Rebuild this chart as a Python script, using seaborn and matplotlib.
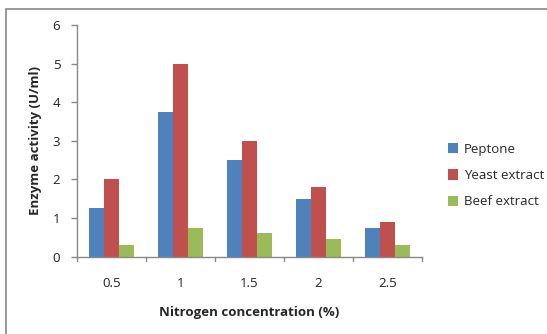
import matplotlib
matplotlib.use("Agg")
import matplotlib.pyplot as plt
import seaborn as sns
import pandas as pd
from matplotlib.patches import Rectangle

categories = ["0.5", "1", "1.5", "2", "2.5"]
peptone = [1.25, 3.75, 2.5, 1.5, 0.75]
yeast_extract = [2.0, 5.0, 3.0, 1.8, 0.9]
beef_extract = [0.3, 0.75, 0.6, 0.45, 0.3]
series_names = ["Peptone", "Yeast extract", "Beef extract"]
y_ticks = [0, 1, 2, 3, 4, 5, 6]

rows = []
for name, vals in zip(series_names, [peptone, yeast_extract, beef_extract]):
    for c, v in zip(categories, vals):
        rows.append({"conc": c, "activity": v, "source": name})
df = pd.DataFrame(rows)

sns.set_theme(style="white")
plt.rcParams['font.family'] = ['Open Sans', 'DejaVu Sans']

W, H = 547, 334
fig = plt.figure(figsize=(W / 100, H / 100), dpi=100)
ax = fig.add_axes([77 / W, 1 - 256.5 / H, (422 - 77) / W, (256.5 - 25) / H])

colors = ["#4F81BD", "#C0504D", "#9BBB59"]
sns.barplot(data=df, x="conc", y="activity", hue="source", order=categories,
            hue_order=series_names, palette=colors, width=0.66, ax=ax,
            saturation=1, errorbar=None, edgecolor="none", linewidth=0)

ax.set_ylim(0, 6)
ax.set_xlim(-0.5, 4.5)
ax.set_yticks(y_ticks)
ax.set_yticklabels([str(t) for t in y_ticks], fontsize=9.5, color="#222222")
ax.set_xticks(range(len(categories)))
ax.set_xticklabels(categories, fontsize=9.5, color="#222222")
ax.tick_params(axis="x", length=0, pad=15)
ax.tick_params(axis="y", length=4, width=1, color="#888888", direction="out", pad=8, left=True)
for b in [-0.5, 0.5, 1.5, 2.5, 3.5, 4.5]:
    ax.plot([b, b], [0, -0.12], color="#888888", lw=1, clip_on=False)

for s in ["top", "right"]:
    ax.spines[s].set_visible(False)
for s in ["left", "bottom"]:
    ax.spines[s].set_color("#888888")
    ax.spines[s].set_linewidth(1)

ax.set_xlabel("Nitrogen concentration (%)", fontsize=9.5, fontweight="bold", labelpad=11)
ax.set_ylabel("Enzyme activity (U/ml)", fontsize=9.5, fontweight="bold", labelpad=8)

ax.legend(title=None, loc="upper left", bbox_to_anchor=(436 / W, 1 - 131 / H),
          bbox_transform=fig.transFigure, frameon=False, fontsize=9.5,
          handlelength=0.8, handleheight=0.8, handletextpad=0.4, labelspacing=1.0)

fig.patches.append(Rectangle((6 / W, -0.05), 1.2, 1 - 9 / H + 0.05,
                             transform=fig.transFigure, fill=False,
                             edgecolor="#888888", linewidth=1.2))

fig.savefig("out.png", dpi=100, facecolor="white")
